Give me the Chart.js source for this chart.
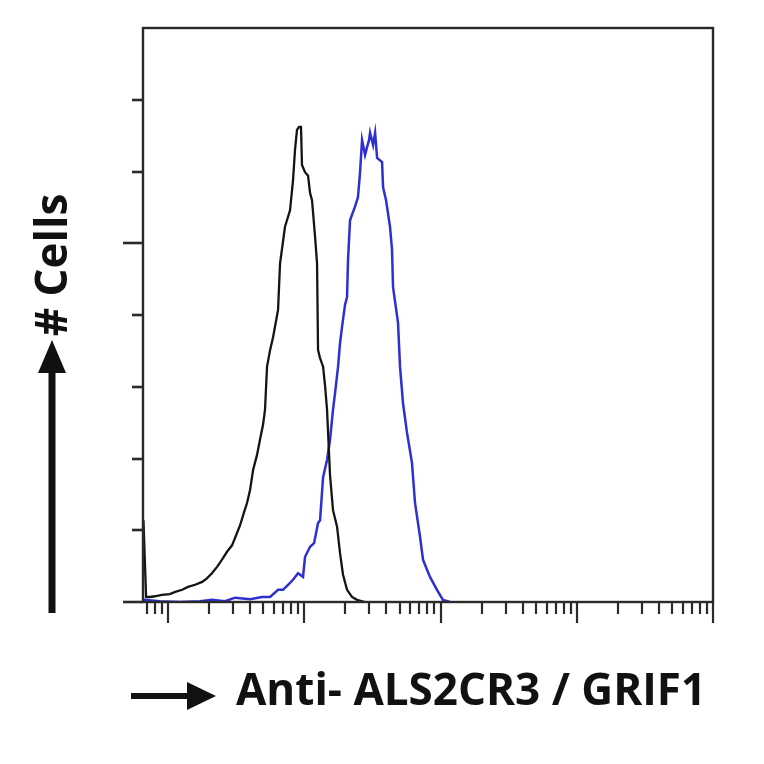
<!DOCTYPE html>
<html>
<head>
<meta charset="utf-8">
<title>Anti- ALS2CR3 / GRIF1 flow histogram</title>
<script src="https://cdn.jsdelivr.net/npm/chart.js@4.4.1/dist/chart.umd.min.js"></script>
<style>
  html, body { margin: 0; padding: 0; background: #fff; }
  #wrap { width: 764px; height: 764px; }
</style>
</head>
<body>
<div id="wrap"><canvas id="histChart" width="764" height="764"></canvas></div>
<script>
// fluorescence intensity (log axis) and cell counts
const controlX = [6.6, 6.9, 7.4, 8.0, 9.0, 10.3, 11.3, 12.7, 14.0, 15.8, 17.8, 19.3, 21.0, 22.9, 24.9, 27.1, 29.5, 31.6, 33.8, 36.1,
  38.0, 40.0, 42.1, 45.0, 47.3, 49.8, 51.5, 53.3, 56.1, 59.0, 64.2, 66.4, 72.2, 78.6, 82.7, 85.5, 88.4, 91.5, 94.6, 96.2,
  101.3, 106.6, 110.3, 114.0, 120.0, 124.1, 126.2, 130.6, 137.4, 142.0, 146.9, 154.5, 162.5, 174.0, 183.0, 192.5, 206, 224, 244, 279];
const controlCounts = [114, 7, 7, 8, 10, 11, 14, 17, 21, 24, 28, 33, 40, 49, 59, 70, 79, 93, 107, 125,
  138, 156, 184, 205, 226, 247, 268, 328, 351, 369, 407, 472, 523, 546, 588, 630, 658, 662, 662, 609,
  599, 594, 570, 560, 509, 472, 351, 340, 328, 302, 268, 177, 128, 105, 68, 38, 17, 7, 3, 0];

const stainedX = [6.6, 8.7, 12.2, 17.2, 21.0, 26.2, 31.0, 40.0, 49.0, 56.1, 64.2, 69.8, 76.0, 82.7, 90.0, 97.9, 101.3, 110.3, 118.0, 126.2,
  130.6, 137.4, 146.9, 154.5, 162.5, 168.2, 177.0, 183.0, 189.2, 199.0, 206, 209.5, 216.7, 235.6, 247.7, 256.5, 265.5, 279.3, 289.0, 299.0,
  304.0, 319.8, 331.0, 342.4, 372.4, 378.7, 398.3, 425.9, 440.6, 448.1, 487.7, 504.4, 530.5, 567.5, 617.4, 649.9, 707.2, 744, 796, 837,
  942, 1042, 1174];
const stainedCounts = [3, 1, 0, 1, 3, 1, 6, 4, 7, 7, 17, 17, 24, 31, 40, 35, 63, 77, 82, 110,
  114, 174, 198, 226, 268, 291, 328, 361, 383, 414, 425, 477, 532, 551, 564, 598, 644, 623, 634, 644,
  654, 637, 654, 619, 613, 578, 560, 523, 491, 439, 389, 328, 277, 236, 194, 138, 91, 59, 45, 35,
  17, 3, 0];

const xMin = 6.55;
const xMax = 100000;
const yMax = 800;
const xMajorTicks = [10, 100, 1000, 10000, 100000];
const yTicks = [0, 100, 200, 300, 400, 500, 600, 700];
const yLongTicks = [0, 500];

const xMinorTicks = [7, 8, 9];
[10, 100, 1000, 10000].forEach(d => {
  for (let m = 2; m <= 9; m++) xMinorTicks.push(m * d);
});

const toPoints = (xs, ys) => xs.map((x, i) => ({ x: x, y: ys[i] }));

const decorPlugin = {
  id: 'decor',
  afterDraw(chart) {
    const ctx = chart.ctx;
    const a = chart.chartArea;
    const xs = chart.scales.x;
    const ys = chart.scales.y;
    ctx.save();
    ctx.strokeStyle = '#2a2a2a';
    ctx.lineWidth = 2.2;
    ctx.lineCap = 'butt';

    // x ticks
    xMinorTicks.forEach(v => {
      const px = Math.round(xs.getPixelForValue(v));
      ctx.beginPath(); ctx.moveTo(px, a.bottom); ctx.lineTo(px, a.bottom + 12); ctx.stroke();
    });
    xMajorTicks.forEach(v => {
      const px = Math.round(xs.getPixelForValue(v));
      ctx.beginPath(); ctx.moveTo(px, a.bottom); ctx.lineTo(px, a.bottom + 21); ctx.stroke();
    });
    // y ticks
    ctx.lineWidth = 2.6;
    yTicks.forEach(v => {
      const py = Math.round(ys.getPixelForValue(v));
      const len = yLongTicks.includes(v) ? 20 : 11;
      ctx.beginPath(); ctx.moveTo(a.left - len, py); ctx.lineTo(a.left, py); ctx.stroke();
    });

    // frame
    ctx.lineWidth = 2.4;
    ctx.strokeRect(a.left, a.top, a.right - a.left, a.bottom - a.top);

    // x title + arrow
    ctx.fillStyle = '#111';
    ctx.strokeStyle = '#111';
    ctx.font = 'bold 44px "Open Sans"';
    ctx.textAlign = 'left';
    ctx.textBaseline = 'alphabetic';
    ctx.fillText('Anti- ALS2CR3 / GRIF1', a.left + 93, a.bottom + 103);

    const ax = a.left - 12, ay = a.bottom + 94;
    ctx.lineWidth = 6;
    ctx.beginPath(); ctx.moveTo(ax, ay); ctx.lineTo(ax + 60, ay); ctx.stroke();
    ctx.beginPath();
    ctx.moveTo(ax + 85, ay);
    ctx.lineTo(ax + 56, ay - 14);
    ctx.lineTo(ax + 56, ay + 14);
    ctx.closePath(); ctx.fill();

    // y title + arrow
    ctx.save();
    ctx.translate(a.left - 76, a.top + 237);
    ctx.rotate(-Math.PI / 2);
    ctx.font = 'bold 44px "Open Sans"';
    ctx.textAlign = 'center';
    ctx.fillText('# Cells', 0, 0);
    ctx.restore();

    const bx = a.left - 91, by = a.bottom + 11;
    ctx.lineWidth = 7;
    ctx.beginPath(); ctx.moveTo(bx, by); ctx.lineTo(bx, a.top + 340); ctx.stroke();
    ctx.beginPath();
    ctx.moveTo(bx, a.top + 312);
    ctx.lineTo(bx - 14, a.top + 345);
    ctx.lineTo(bx + 14, a.top + 345);
    ctx.closePath(); ctx.fill();
    ctx.restore();
  }
};

new Chart(document.getElementById('histChart'), {
  type: 'line',
  data: {
    datasets: [
      {
        label: 'Control',
        data: toPoints(controlX, controlCounts),
        borderColor: '#141414',
        borderWidth: 2.3,
        pointRadius: 0,
        tension: 0,
        fill: false
      },
      {
        label: 'Anti- ALS2CR3 / GRIF1',
        data: toPoints(stainedX, stainedCounts),
        borderColor: '#2f2fd2',
        borderWidth: 2.5,
        pointRadius: 0,
        tension: 0,
        fill: false
      }
    ]
  },
  options: {
    responsive: false,
    animation: false,
    layout: { padding: { left: 143, right: 51, top: 28, bottom: 162 } },
    plugins: { legend: { display: false }, tooltip: { enabled: false } },
    scales: {
      x: { type: 'logarithmic', min: xMin, max: xMax, display: false },
      y: { type: 'linear', min: 0, max: yMax, display: false }
    }
  },
  plugins: [decorPlugin]
});
</script>
</body>
</html>
